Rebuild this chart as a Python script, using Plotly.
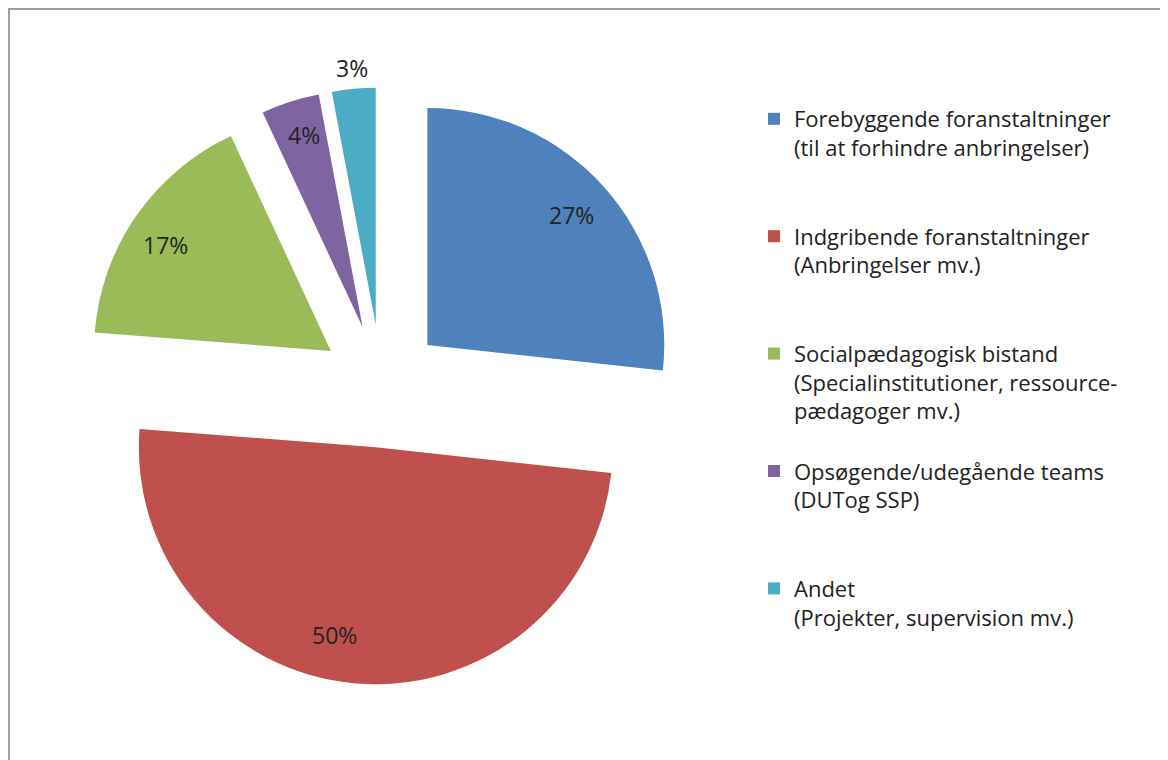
import math
import plotly.graph_objects as go

categories = [
    "Forebyggende foranstaltninger<br>(til at forhindre anbringelser)<br> <br> ",
    "Indgribende foranstaltninger<br>(Anbringelser mv.)<br> <br> ",
    "Socialpædagogisk bistand<br>(Specialinstitutioner, ressource-<br>pædagoger mv.)<br> ",
    "Opsøgende/udegående teams<br>(DUTog SSP)<br> <br> ",
    "Andet<br>(Projekter, supervision mv.)",
]
values = [27, 50, 17, 4, 3]
colors = ["#4F81BD", "#C0504D", "#9BBB59", "#8064A2", "#4BACC6"]
# data label placement: radial fraction of pie radius and angular nudge (deg)
label_radius = [0.82, 0.81, 0.83, 0.85, 1.09]
label_angle_offset = [0, 7, -2, 1, 0]

W, H = 1168, 760
PULL = 0.26
dom_x = [75 / W, 672 / W]
dom_y = [1 - 677 / H, 1 - 79 / H]

fig = go.Figure(
    go.Pie(
        labels=categories,
        values=values,
        sort=False,
        direction="clockwise",
        rotation=0,
        pull=[PULL] * len(values),
        marker=dict(colors=colors, line=dict(width=0)),
        textinfo="none",
        domain=dict(x=dom_x, y=dom_y),
        hoverinfo="label+percent",
    )
)

# data labels placed along each slice's mid-angle, derived from the values
cx = W * (dom_x[0] + dom_x[1]) / 2
cy = H * (dom_y[0] + dom_y[1]) / 2  # measured from bottom
r = min(W * (dom_x[1] - dom_x[0]), H * (dom_y[1] - dom_y[0])) / 2 / (1 + PULL)
total = sum(values)
annotations = []
cum = 0
for v, k, da in zip(values, label_radius, label_angle_offset):
    mid = (cum + v / 2) / total * 2 * math.pi
    cum += v
    apex_x = cx + PULL * r * math.sin(mid)
    apex_y = cy + PULL * r * math.cos(mid)
    ang = mid + math.radians(da)
    px = apex_x + k * r * math.sin(ang)
    py = apex_y + k * r * math.cos(ang)
    annotations.append(
        dict(
            x=px / W,
            y=py / H,
            xref="paper",
            yref="paper",
            text=f"{v}%",
            showarrow=False,
            xanchor="center",
            yanchor="middle",
            font=dict(family="Open Sans", size=23, color="#222222"),
        )
    )

fig.update_layout(
    width=W,
    height=H,
    margin=dict(l=0, r=0, t=0, b=0, autoexpand=False),
    paper_bgcolor="white",
    plot_bgcolor="white",
    font=dict(family="Open Sans", color="#222222"),
    showlegend=True,
    annotations=annotations,
    legend=dict(
        x=746 / W,
        y=1 - 90 / H,
        xanchor="left",
        yanchor="top",
        valign="top",
        font=dict(family="Open Sans", size=22, color="#222222"),
        bgcolor="rgba(0,0,0,0)",
    ),
    shapes=[
        dict(
            type="rect",
            xref="paper",
            yref="paper",
            x0=1 / W,
            x1=1.05,
            y0=-0.05,
            y1=1 - 1 / H,
            line=dict(color="#a0a0a0", width=2),
            fillcolor="rgba(0,0,0,0)",
            layer="below",
        )
    ],
)

fig.write_html("out.html")
